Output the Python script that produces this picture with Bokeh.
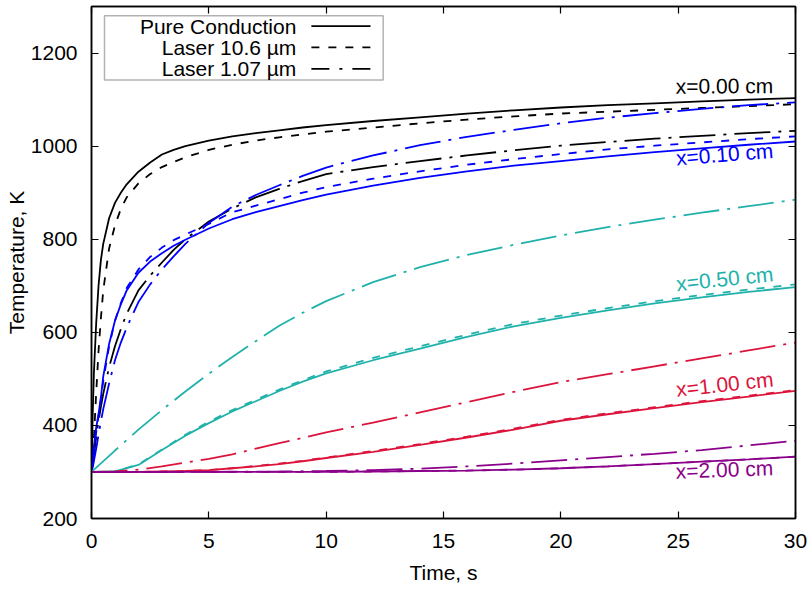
from bokeh.plotting import figure
from bokeh.models import LinearAxis, FixedTicker, Label, BoxAnnotation, Arrow
from bokeh.embed import file_html
from bokeh.resources import INLINE

FONT = "Liberation Sans"

# ---------------- data ----------------
t_fast = [0, 0.05, 0.1, 0.2, 0.3, 0.4, 0.5, 0.75, 1, 1.25, 1.5, 2, 2.5, 3, 3.5, 4,
          5, 6, 7, 8, 9, 10, 12, 14, 16, 18, 20, 22, 24, 26, 28, 30]
t_slow = [0, 1, 2, 3, 4, 5, 6, 7, 8, 9, 10, 12, 14, 16, 18, 20, 22, 24, 26, 28, 30]

# x = 0.00 cm
x000_pure = [300, 420, 510, 620, 700, 755, 790, 845, 878, 900, 918, 945, 965, 982, 992, 1000,
             1012, 1021, 1028, 1034, 1040, 1045, 1054, 1062, 1070, 1077, 1083, 1088, 1092, 1096, 1100, 1103]
x000_l106 = [300, 330, 370, 470, 560, 630, 690, 780, 830, 865, 890, 920, 940, 955, 966, 976,
             992, 1003, 1012, 1019, 1025, 1031, 1040, 1049, 1057, 1064, 1070, 1074, 1078, 1082, 1086, 1090]
x000_l107 = [300, 315, 335, 375, 410, 440, 468, 525, 570, 607, 640, 690, 722, 750, 777, 800,
             838, 866, 890, 908, 925, 940, 955, 968, 980, 991, 1001, 1009, 1016, 1022, 1028, 1033]
# x = 0.10 cm
x010_pure = [300, 330, 355, 395, 425, 460, 505, 575, 625, 660, 690, 728, 752, 770, 786, 799,
             823, 843, 858, 871, 884, 896, 915, 932, 946, 958, 968, 978, 987, 995, 1003, 1010]
x010_l106 = [300, 325, 345, 385, 420, 455, 495, 570, 625, 663, 695, 735, 762, 782, 798, 810,
             833, 858, 872, 886, 900, 912, 930, 946, 960, 972, 983, 993, 1001, 1008, 1015, 1021]
x010_l107 = [300, 310, 322, 350, 380, 408, 435, 490, 540, 578, 610, 665, 703, 735, 763, 790,
             835, 870, 895, 916, 936, 954, 980, 1002, 1020, 1035, 1049, 1061, 1071, 1080, 1088, 1094]
# x = 0.50 cm
x050_pure = [300, 301, 315, 347, 378, 405, 430, 452, 474, 494, 512, 540, 565, 590, 613, 631,
             647, 662, 675, 687, 697]
x050_l106 = [300, 301, 316, 348, 380, 408, 433, 455, 477, 497, 516, 545, 570, 595, 618, 636,
             652, 667, 680, 692, 703]
x050_l107 = [300, 346, 391, 433, 473, 511, 547, 581, 614, 642, 667, 708, 740, 766, 788, 808,
             826, 842, 857, 871, 885]
# x = 1.00 cm
x100_pure = [300, 300, 300, 301, 302, 304, 308, 312, 317, 323, 330, 343, 358, 374, 391, 410,
             424, 437, 450, 462, 474]
x100_l106 = [300, 300, 300, 301, 302, 304, 308, 313, 318, 324, 331, 345, 360, 376, 393, 412,
             426, 439, 452, 464, 476]
x100_l107 = [300, 301, 305, 312, 320, 328, 338, 350, 362, 373, 385, 406, 428, 450, 472, 493,
             510, 527, 544, 561, 578]
# x = 2.00 cm
x200_pure = [300, 300, 300, 300, 300, 300, 300, 300, 300, 300, 300, 301, 302, 303, 305, 308,
             312, 317, 322, 327, 333]
x200_l106 = [300, 300, 300, 300, 300, 300, 300, 300, 300, 300, 300, 301, 302, 303, 305, 308,
             312, 317, 322, 327, 333]
x200_l107 = [300, 300, 300, 300, 300, 300, 300.5, 300.7, 301, 301.5, 302, 304, 307, 312, 318, 325,
             332, 339, 347, 357, 367]

legend_labels = ["Pure Conduction", "Laser 10.6 µm", "Laser 1.07 µm"]
curve_labels = ["x=0.00 cm", "x=0.10 cm", "x=0.50 cm", "x=1.00 cm", "x=2.00 cm"]
x_ticks = [0, 5, 10, 15, 20, 25, 30]
y_ticks = [200, 400, 600, 800, 1000, 1200]

# ---------------- styles ----------------
colors = ["#000000", "#0000ff", "#20b2aa", "#dc143c", "#8b008b"]
DASHES = ["solid", "8 9", "36 8 3 8"]
LEGEND_DASHES = ["solid", "8 9", "18 10 3 10"]
LW = 1.8

groups = [
    (t_fast, [x000_pure, x000_l106, x000_l107]),
    (t_fast, [x010_pure, x010_l106, x010_l107]),
    (t_slow, [x050_pure, x050_l106, x050_l107]),
    (t_slow, [x100_pure, x100_l106, x100_l107]),
    (t_slow, [x200_pure, x200_l106, x200_l107]),
]

p = figure(width=812, height=591, x_range=(0, 30), y_range=(200, 1300),
           output_backend="svg", toolbar_location=None,
           min_border_left=91, min_border_right=17, min_border_top=6, min_border_bottom=73)
p.background_fill_color = "white"
p.border_fill_color = "white"
p.xgrid.visible = False
p.ygrid.visible = False
p.outline_line_color = "black"
p.outline_line_width = 1.5

for (tt, series), col in zip(groups, colors):
    for vals, dash in zip(series, DASHES):
        p.line(tt, vals, line_color=col, line_width=LW, line_dash=dash)


def style_axis(ax, show_labels=True):
    ax.axis_line_color = "black"
    ax.axis_line_width = 1.5
    ax.major_tick_in = 7
    ax.major_tick_out = 0
    ax.minor_tick_in = 0
    ax.minor_tick_out = 0
    ax.major_tick_line_color = "black"
    ax.major_tick_line_width = 1.2
    ax.major_label_text_font = FONT
    ax.axis_label_text_font = FONT
    ax.axis_label_text_font_size = "21px"
    ax.axis_label_text_font_style = "normal"
    ax.axis_label_text_color = "black"
    if show_labels:
        ax.major_label_text_font_size = "21px"
        ax.major_label_text_color = "black"
    else:
        ax.major_label_text_font_size = "0px"
        ax.major_label_text_color = None
        ax.major_label_standoff = 0


p.xaxis.ticker = FixedTicker(ticks=x_ticks)
p.yaxis.ticker = FixedTicker(ticks=y_ticks)
style_axis(p.xaxis[0])
style_axis(p.yaxis[0])
p.xaxis.axis_label = "Time, s"
p.yaxis.axis_label = "Temperature, K"
p.xaxis.major_label_standoff = 15
p.xaxis.axis_label_standoff = 10
p.yaxis.major_label_standoff = 14
p.yaxis.axis_label_standoff = 0

top_ax = LinearAxis(ticker=FixedTicker(ticks=x_ticks))
style_axis(top_ax, show_labels=False)
p.add_layout(top_ax, "above")
right_ax = LinearAxis(ticker=FixedTicker(ticks=y_ticks))
style_axis(right_ax, show_labels=False)
p.add_layout(right_ax, "right")

# curve labels (anchor = right-middle, angle in degrees)
LABEL_X = 29.05
LABEL_Y = [1130, 991, 726, 500, 309]
LABEL_ANGLE = [0.3, 4.5, 5.9, 6.2, 2.0]
for txt, col, ly, ang in zip(curve_labels, colors, LABEL_Y, LABEL_ANGLE):
    p.add_layout(Label(x=LABEL_X, y=ly, text=txt, text_align="right",
                       text_baseline="middle", angle=ang, angle_units="deg",
                       text_font=FONT, text_font_size="21px", text_color=col))

# legend (label on the left, sample on the right)
LEG_BOX = dict(left=0.554, right=12.43, bottom=1142, top=1280)
LEG_TEXT_X = 8.73
LEG_SAMPLE = (9.37, 11.89)
LEG_ROWS = [1258, 1212, 1166]
p.add_layout(BoxAnnotation(fill_color="white", fill_alpha=1.0, line_color="black",
                           line_width=1.5, **LEG_BOX))
for txt, dash, ry in zip(legend_labels, LEGEND_DASHES, LEG_ROWS):
    p.add_layout(Label(x=LEG_TEXT_X, y=ry, text=txt, text_align="right",
                       text_baseline="middle", text_font=FONT, text_font_size="21px",
                       text_color="black"))
    p.add_layout(Arrow(end=None, x_start=LEG_SAMPLE[0], y_start=ry, x_end=LEG_SAMPLE[1],
                       y_end=ry, line_color="black", line_width=LW, line_dash=dash))

open("out.html", "w").write(file_html(p, INLINE))
